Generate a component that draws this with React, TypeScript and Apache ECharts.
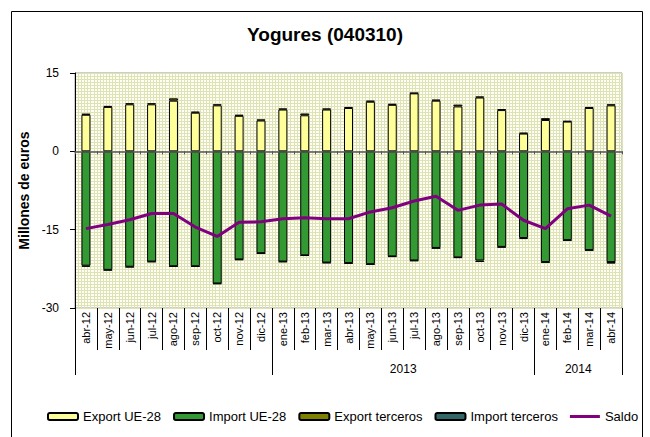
import React, { useEffect, useRef } from 'react';
import * as echarts from 'echarts';

const categories = ['abr-12', 'may-12', 'jun-12', 'jul-12', 'ago-12', 'sep-12', 'oct-12', 'nov-12', 'dic-12', 'ene-13', 'feb-13', 'mar-13', 'abr-13', 'may-13', 'jun-13', 'jul-13', 'ago-13', 'sep-13', 'oct-13', 'nov-13', 'dic-13', 'ene-14', 'feb-14', 'mar-14', 'abr-14'];
const exportUE = [7.0, 8.5, 9.0, 9.0, 9.7, 7.4, 8.8, 6.8, 5.9, 8.0, 6.9, 8.0, 8.3, 9.5, 8.9, 11.1, 9.7, 8.6, 10.3, 7.9, 3.4, 6.0, 5.7, 8.3, 8.8];
const exportTerceros = [0.2, 0.2, 0.2, 0.2, 0.45, 0.2, 0.2, 0.2, 0.2, 0.2, 0.35, 0.2, 0.2, 0.2, 0.2, 0.1, 0.2, 0.35, 0.2, 0.2, 0.15, 0.35, 0.1, 0.2, 0.2];
const importUE = [-21.9, -22.7, -22.1, -21.1, -22.0, -22.0, -25.3, -20.7, -19.5, -21.1, -19.9, -21.3, -21.4, -21.6, -20.1, -20.9, -18.5, -20.3, -20.9, -18.3, -16.6, -21.2, -17.0, -18.9, -21.2];
const importTerceros = [-0.2, -0.1, -0.1, -0.1, -0.1, -0.1, -0.1, -0.1, -0.1, -0.1, -0.1, -0.1, -0.1, -0.1, -0.1, -0.1, -0.1, -0.1, -0.3, -0.1, -0.2, -0.1, -0.1, -0.1, -0.3];
const saldo = [-14.8, -14.0, -13.1, -11.9, -11.9, -14.5, -16.3, -13.6, -13.5, -12.9, -12.7, -12.9, -12.9, -11.6, -10.8, -9.5, -8.6, -11.3, -10.3, -10.1, -13.2, -14.8, -11.0, -10.3, -12.4];
const yearNames = ['', '2013', '2014'];
const yearCounts = [9, 12, 4];
const yTicks = { min: -30, max: 15, interval: 15 };

const FONT = "'Liberation Sans', Arial, sans-serif";
const GRIDLINE = '#DEE3B6';

export default function App() {
  const ref = useRef<HTMLDivElement>(null);
  useEffect(() => {
    const chart = echarts.init(ref.current!, null, { renderer: 'svg' });
    const bounds: number[] = [0];
    yearCounts.forEach((c) => bounds.push(bounds[bounds.length - 1] + c));
    const labelPos = yearCounts.map((c, i) => bounds[i] + c / 2);
    const barBase = { type: 'bar', stack: 'total', barWidth: 9, xAxisIndex: 0 };
    const option: any = {
      animation: false,
      backgroundColor: '#ffffff',
      textStyle: { fontFamily: FONT },
      title: {
        text: 'Yogures (040310)',
        left: 'center',
        top: 20,
        textStyle: { fontFamily: FONT, fontWeight: 'bold', fontSize: 19, color: '#000' },
      },
      graphic: [
        { type: 'rect', shape: { x: 11.5, y: 11.5, width: 631, height: 430 }, style: { fill: 'none', stroke: '#000', lineWidth: 1 }, silent: true },
      ],
      legend: {
        top: 405,
        left: 42,
        itemWidth: 30,
        itemHeight: 7,
        itemGap: 12,
        textStyle: { fontFamily: FONT, fontSize: 13, color: '#000' },
        data: [
          'Export UE-28',
          'Import UE-28',
          'Export terceros',
          'Import terceros',
          { name: 'Saldo', icon: 'path://M0,0h30v3h-30z', itemStyle: { borderWidth: 0 } },
        ],
      },
      grid: {
        left: 75,
        right: 28,
        top: 73,
        bottom: 129,
        show: true,
        backgroundColor: '#FFFFF6',
        borderColor: '#9a9a9a',
        borderWidth: 1,
      },
      xAxis: [
        {
          type: 'category',
          data: categories,
          position: 'bottom',
          axisLine: { show: false, onZero: false },
          axisTick: { show: true, interval: 0, length: 42, alignWithLabel: false, lineStyle: { color: '#000' } },
          axisLabel: { interval: 0, rotate: 90, margin: 4, fontSize: 11, color: '#000', fontFamily: FONT },
          splitLine: { show: false },
        },
        {
          type: 'value',
          min: 0,
          max: categories.length,
          position: 'bottom',
          axisLine: { show: false, onZero: false },
          axisTick: { show: true, customValues: bounds, length: 67, lineStyle: { color: '#000' } },
          axisLabel: {
            show: true,
            customValues: labelPos,
            margin: 55,
            fontSize: 12,
            color: '#000',
            fontFamily: FONT,
            formatter: (v: number) => {
              const i = labelPos.indexOf(v);
              return i >= 0 ? yearNames[i] : '';
            },
          },
          splitLine: { show: false },
        },
        {
          type: 'category',
          data: categories,
          position: 'bottom',
          axisLine: { show: true, onZero: true, lineStyle: { color: '#555', width: 1.5 } },
          axisTick: { show: true, interval: 0, length: 3, alignWithLabel: false, lineStyle: { color: '#555' } },
          axisLabel: { show: false },
          splitLine: { show: false },
          z: 5,
        },
        {
          type: 'value',
          min: 0,
          max: categories.length,
          interval: 1,
          position: 'top',
          axisLine: { show: false, onZero: false },
          axisTick: { show: false },
          axisLabel: { show: false },
          splitLine: { show: true, lineStyle: { color: GRIDLINE, width: 1 } },
          minorTick: { show: false, splitNumber: 7 },
          minorSplitLine: { show: true, lineStyle: { color: GRIDLINE, width: 1 } },
        },
      ],
      yAxis: {
        type: 'value',
        min: yTicks.min,
        max: yTicks.max,
        interval: yTicks.interval,
        name: 'Millones de euros',
        nameLocation: 'middle',
        nameGap: 34,
        nameTextStyle: { fontFamily: FONT, fontWeight: 'bold', fontSize: 14, color: '#000' },
        axisLine: { show: true, onZero: false, lineStyle: { color: '#000' } },
        axisTick: { show: true, length: 5, lineStyle: { color: '#000' } },
        axisLabel: { fontSize: 12, color: '#000', margin: 16, fontFamily: FONT },
        splitLine: { show: true, lineStyle: { color: GRIDLINE, width: 1 } },
        minorTick: { show: false, splitNumber: 26 },
        minorSplitLine: { show: true, lineStyle: { color: GRIDLINE, width: 1 } },
      },
      series: [
        { ...barBase, name: 'Export UE-28', data: exportUE, itemStyle: { color: '#FFFF99', borderColor: '#000', borderWidth: 1 } },
        { ...barBase, name: 'Import UE-28', data: importUE, itemStyle: { color: '#339933', borderColor: '#000', borderWidth: 1 } },
        { ...barBase, name: 'Export terceros', data: exportTerceros, itemStyle: { color: '#808000', borderColor: '#000', borderWidth: 1 } },
        { ...barBase, name: 'Import terceros', data: importTerceros, itemStyle: { color: '#336666', borderColor: '#000', borderWidth: 1 } },
        {
          type: 'line',
          name: 'Saldo',
          xAxisIndex: 0,
          data: saldo,
          symbol: 'none',
          color: '#800080',
          lineStyle: { color: '#800080', width: 3 },
          itemStyle: { color: '#800080' },
          z: 6,
        },
      ],
    };
    chart.setOption(option);
    return () => chart.dispose();
  }, []);
  return <div ref={ref} style={{ position: 'absolute', left: 0, top: 0, width: 650, height: 437 }} />;
}
